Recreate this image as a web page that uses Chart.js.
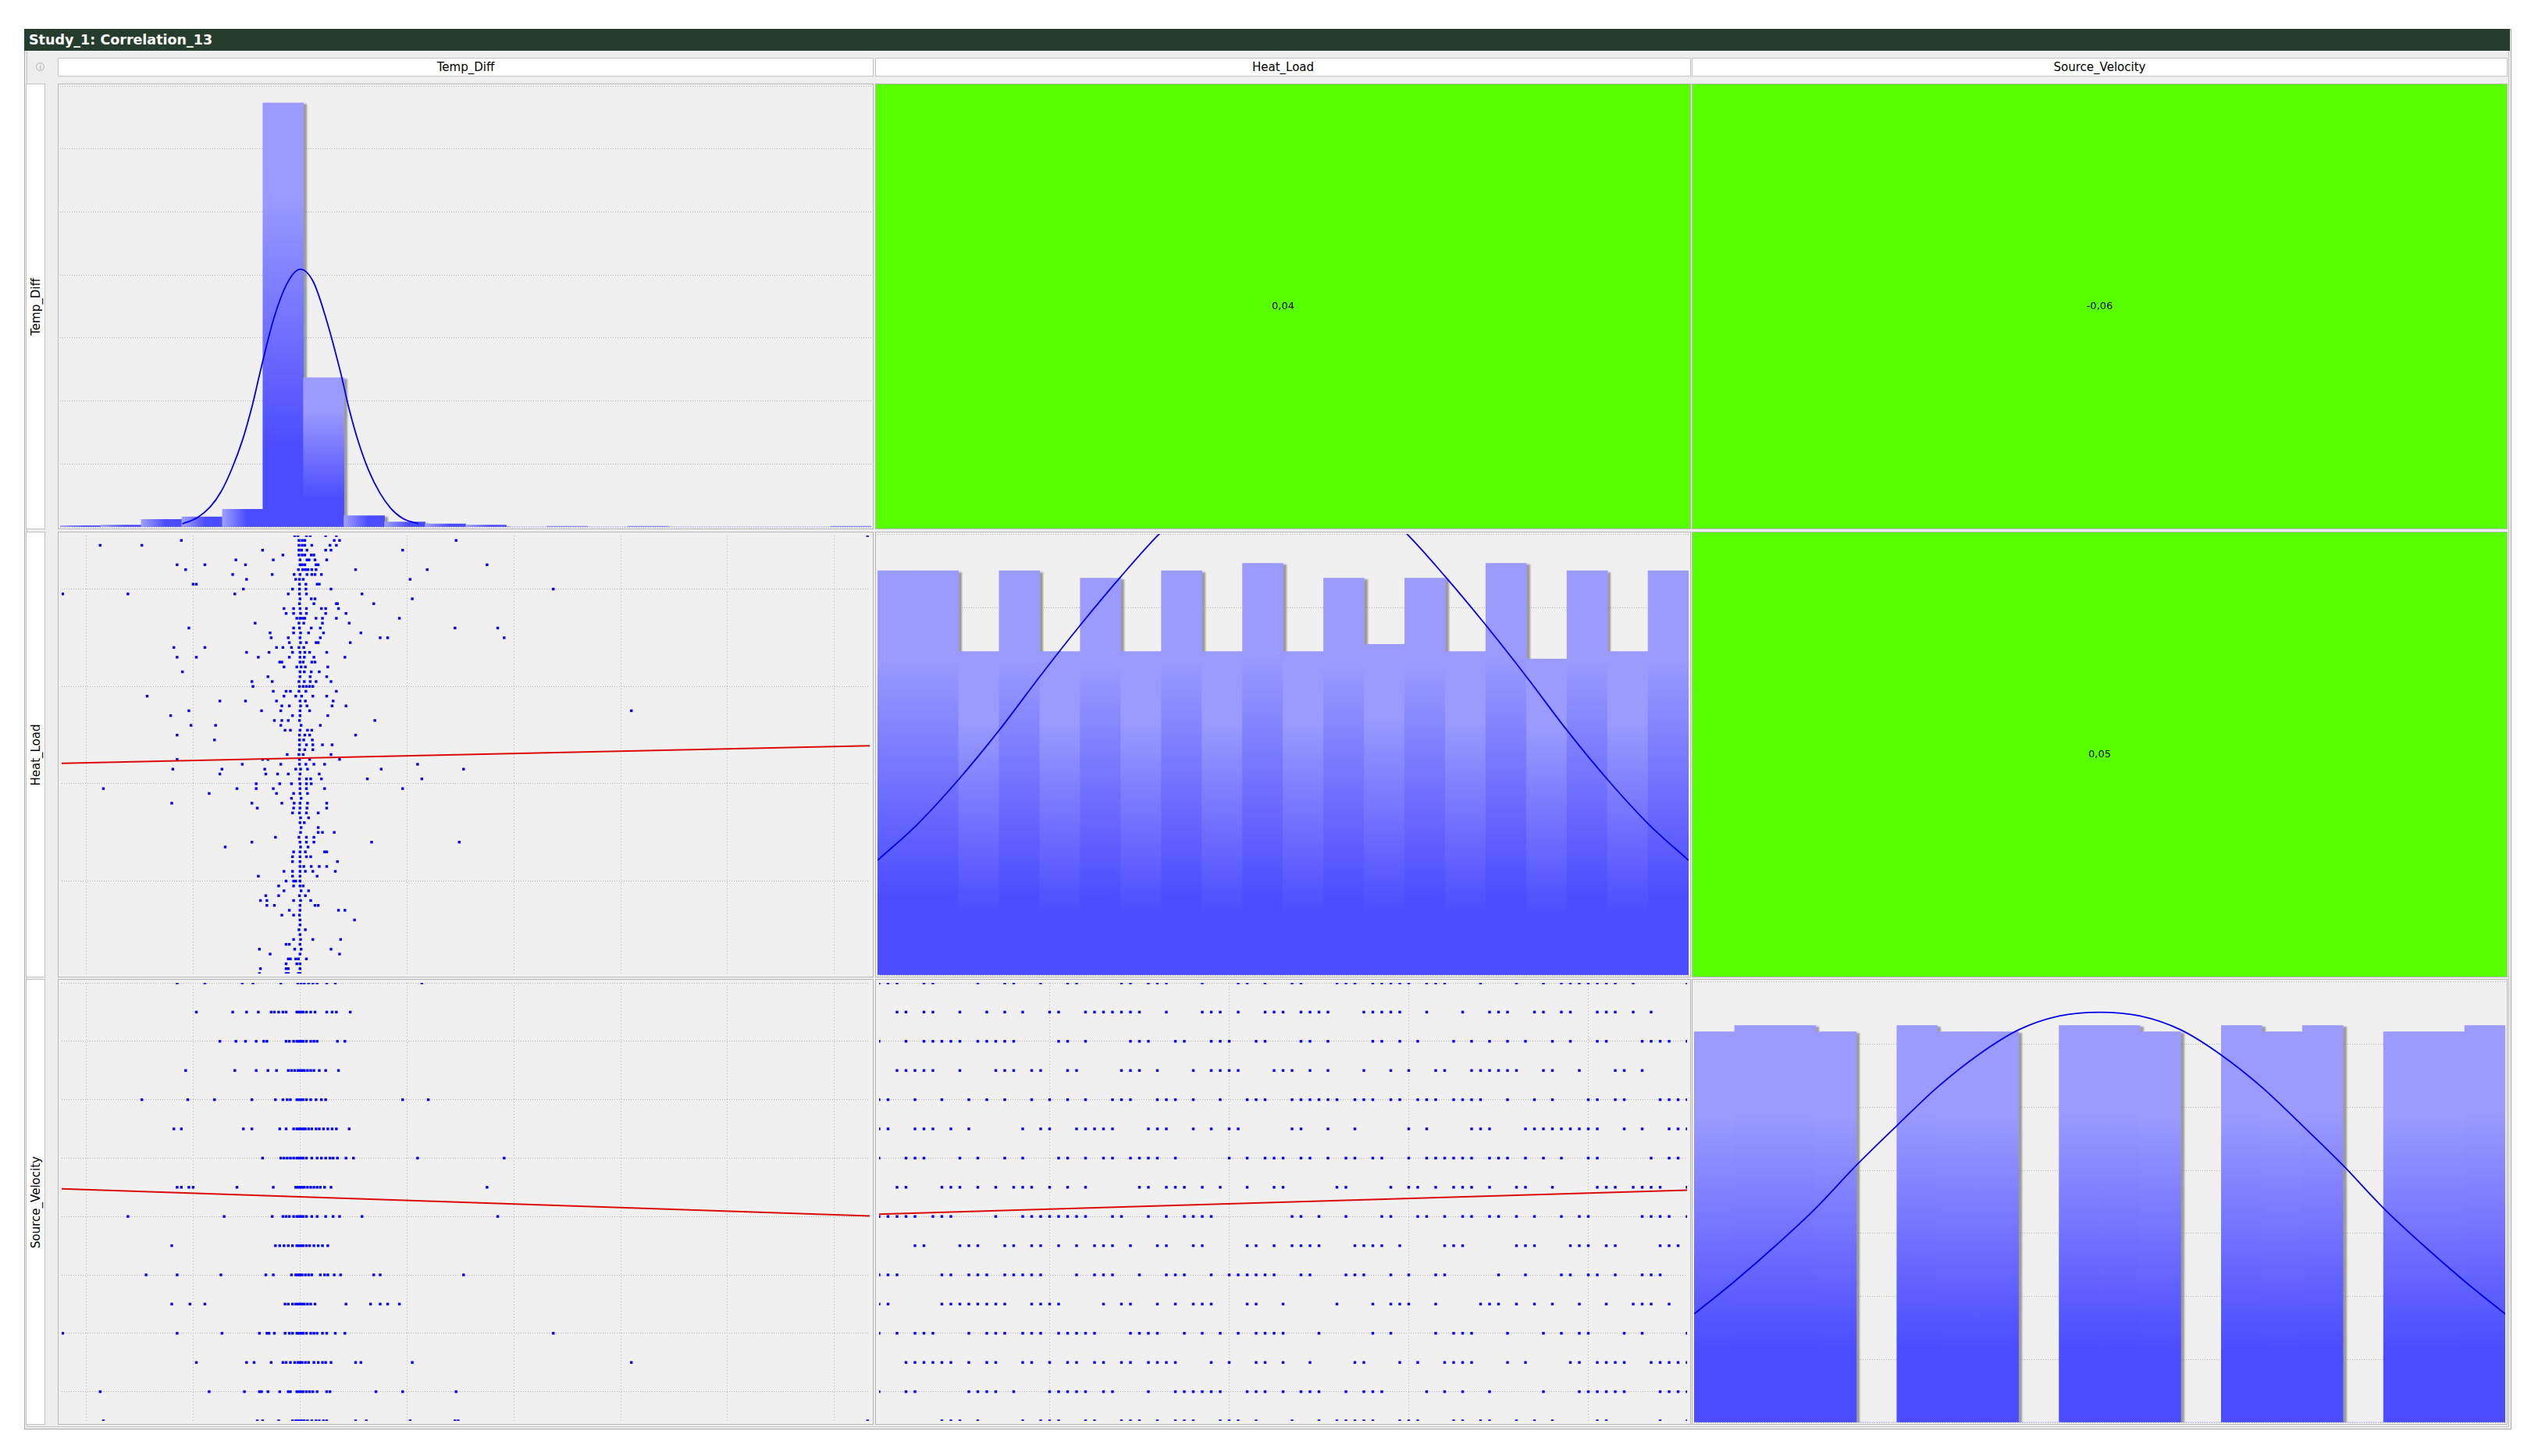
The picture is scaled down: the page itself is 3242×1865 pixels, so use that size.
<!DOCTYPE html>
<html>
<head>
<meta charset="utf-8">
<script src="https://cdn.jsdelivr.net/npm/chart.js@4.4.1/dist/chart.umd.min.js"></script>
<style>
  body { margin: 0; width: 3242px; height: 1865px; background: #fff; position: relative; overflow: hidden; font-family: "DejaVu Sans", sans-serif; }
  .frame { position: absolute; left: 31px; top: 37px; width: 3186px; height: 1794px; background: #eeeeee; border: 1px solid #a8a8a8; box-sizing: border-box; box-shadow: inset 0 0 0 2px #eeeeee, inset 0 0 0 3px #c4c4c4; }
  .title { position: absolute; left: 31px; top: 37px; width: 3184px; height: 28px; background: #263d2e; color: #fff; font: bold 17.5px "DejaVu Sans"; line-height: 28px; padding-left: 6px; box-sizing: border-box; }
  .info { position: absolute; left: 46px; top: 80px; width: 11px; height: 11px; border: 1px solid #b4b4b4; border-radius: 50%; font: 8px "DejaVu Sans"; color: #a0a0a0; text-align: center; line-height: 11px; box-sizing: border-box; }
  .colhead { position: absolute; top: 74px; height: 24px; background: #fff; border: 1px solid #c4c4c4; box-sizing: border-box; font: 15px "DejaVu Sans"; text-align: center; line-height: 22px; color: #000; }
  .rowhead { position: absolute; left: 33px; width: 25px; background: #fff; border: 1px solid #c4c4c4; box-sizing: border-box; }
  .rowhead span { position: absolute; left: 50%; top: 50%; transform: translate(-50%, -50%) rotate(-90deg); white-space: nowrap; font: 15px "DejaVu Sans"; color: #000; }
  .panel { position: absolute; border: 1px solid #b8b8b8; box-sizing: border-box; background: #f0f0f0; }
  .panel canvas { display: block; }
</style>
</head>
<body>
<div class="frame"></div>
<div class="title">Study_1: Correlation_13</div>
<div class="info">i</div>
<script>
const variables = ["Temp_Diff", "Heat_Load", "Source_Velocity"];

// axis ranges (data units) and gridline positions
const tempDiffRange = [-22.3, 53.3];
const heatRange = [0, 90];
const sourceRange = [0, 15];
const tempDiffGrid = [-20, -10, 0, 10, 20, 30, 40, 50];
const heatGrid = [19, 39, 59, 79];
const sourceGrid = [1, 3, 5, 7, 9, 11, 13, 15];

// histogram counts, 20 bins each
const tempDiffCounts = [2, 3, 12, 16, 28, 673, 237, 18, 8, 5, 3, 0, 1, 0, 1, 0, 0, 0, 0, 1];
const heatCounts = [55, 55, 44, 55, 44, 54, 44, 55, 44, 56, 44, 54, 45, 54, 44, 56, 43, 55, 44, 55];
const sourceCounts = [62, 63, 63, 62, 0, 63, 62, 62, 0, 63, 63, 62, 0, 63, 62, 63, 0, 62, 62, 63];
const tempCountTicks = [0, 100, 200, 300, 400, 500, 600, 700];
const heatCountTicks = [0, 10, 20, 30, 40, 50, 60];
const sourceCountTicks = [0, 10, 20, 30, 40, 50, 60, 70];

// fitted normal curves
const tempCurveX = [-10.9, -9.5, -8.3, -7.3, -6.3, -5.3, -4.4, -3.6, -2.4, -1.1, 0.1, 1.3, 2.5, 3.8, 4.7, 5.5, 6.5, 7.5, 8.5, 9.6, 11.1];
const tempCurveY = [5, 15, 32, 56, 92, 138, 192, 250, 330, 388, 409, 389, 330, 248, 183, 135, 88, 54, 30, 14, 5];
const heatCurveX = [0, 4.5, 9, 13.5, 18, 22.5, 27, 31.5, 36, 40.5, 45, 49.5, 54, 58.5, 63, 67.5, 72, 76.5, 81, 85.5, 90];
const heatCurveY = [15.6, 20.6, 26.6, 33.3, 40.6, 47.6, 54.2, 60.3, 65, 68, 69, 68, 65, 60.3, 54.2, 47.6, 40.6, 33.3, 26.6, 20.6, 15.6];
const sourceCurveX = [0, 0.75, 1.5, 2.25, 3, 3.75, 4.5, 5.25, 6, 6.75, 7.5, 8.25, 9, 9.75, 10.5, 11.25, 12, 12.75, 13.5, 14.25, 15];
const sourceCurveY = [17.2, 22.4, 28, 34, 40.8, 47.1, 53.2, 58.3, 62.3, 64.5, 65.1, 64.5, 62.3, 58.3, 53.2, 47.1, 40.8, 34, 28, 22.4, 17.2];

// correlations: Temp/Heat, Temp/Source, Heat/Source
const corrValues = [0.04, -0.06, 0.05];

// regression line ends (y at left and right edge)
const fitTempHeat = [43.2, 46.8];
const fitTempSource = [7.95, 7.02];
const fitHeatSource = [7.08, 7.9];

// Temp_Diff values per Heat_Load level, from 90 down to 0
const tdHeatRows = [
  [-0.5, -0.2, 0.6, 0.95, 2.4, 3.4, 53.1],
  [-11.1, -0.1, 0.2, 0.45, 3.2, 3.7, 14.6],
  [-18.7, -14.8, -0.1, 0.2, 0.45, 1.1, 2.8, 3.4],
  [-3.5, -0.1, 0.15, 0.65, 2.4, 2.9, 9.6],
  [-1.6, -0.1, 0.2, 0.45, 1.05, 1.3],
  [-6.0, -2.5, 0, 0.65, 0.85, 1.4, 2.5],
  [-11.5, -8.9, -5.1, 0, 0.2, 0.45, 1.5, 1.7, 17.5],
  [-10.7, -0.15, 0.25, 0.5, 0.75, 1.1, 1.5, 5.2, 11.9],
  [-6.3, -2.6, -0.55, 0, 0.65, 1.1, 1.4, 2.0],
  [-5.0, -0.4, -0.05, 0.3, 10.3],
  [-10.0, -9.7, -0.05, 0.55, 1.6, 1.8],
  [-5.3, -0.7, -0.05, 0.55, 2.9, 23.7],
  [-22.2, -16.1, -6.1, -1.1, -0.05, 0.6, 5.8],
  [0, 1.05, 1.4, 10.5],
  [-0.05, 1.3, 3.4, 3.5, 6.9],
  [-1.5, -0.6, 0, 0.6, 2.0, 2.4, 3.6],
  [-1.3, -0.6, 0.05, 0.6, 2.4, 4.3],
  [-0.3, 0, 0.25, 0.45, 1.5, 2.1, 3.4, 9.3],
  [-4.2, -0.1, 0.35, 2.1, 4.6],
  [-10.4, -0.6, -0.05, 1.05, 1.9, 14.5, 18.5],
  [-2.8, -0.6, 0.05, 0.8, 2.2, 5.7],
  [-2.7, -1.1, 0, 1.9, 7.5, 8.2, 19.1],
  [-1.0, 0.05, 0.6, 1.5, 1.7, 4.7],
  [-11.8, -8.9, -2.2, -1.6, -0.8, -0.1, 0.35],
  [-5.0, -2.9, -0.7, 0, 0.45, 0.9, 2.5],
  [-11.5, -9.7, -3.9, -1.0, 0, 0.4, 1.3, 4.2],
  [-1.9, -1.7, 0, 0.3, 1.1, 1.4],
  [-1.5, -0.3, 0.1, 0.5, 2.6],
  [-11.0, 0, 0.4, 1.05, 1.8],
  [-3.0, 0, 0.95, 2.5],
  [-4.5, -2.6, -0.1, 0.4, 0.95, 1.5, 2.9],
  [-4.4, -0.05, 0.3, 0.6, 0.9, 1.2],
  [-2.5, -1.3, -0.9, -0.1, 0.55, 3.4],
  [-14.3, -1.5, -0.4, 0.15, 1.2, 2.5],
  [-7.5, -5.1, -2.2, 0, 0.5, 3.1],
  [-1.7, -1.0, 0.05, 0.65, 3.0, 4.3],
  [-10.4, -3.6, -1.8, 0, 0.9, 31.0],
  [-12.1, -0.7, 0, 2.6],
  [-2.4, -1.7, -1.1, -0.05, 7.0],
  [-10.2, -7.9, -1.8, 0.1, 1.9],
  [-1.4, -0.9, 0, 0.7, 1.1],
  [-11.5, -0.05, 0.45, 0.9, 5.2],
  [-8.0, -0.05, 0.35, 1.15],
  [-0.05, 0.6, 1.2, 2.1, 3.0],
  [-0.05, 0.45, 1.2],
  [-1.2, -0.1, 0.3, 2.9],
  [-11.5, -3.5, -3.0, -0.05, 0.9, 3.7],
  [-5.4, -1.8, -0.05, 0.55, 1.3, 2.3, 11.0],
  [-11.9, -7.3, -3.3, -0.4, 0.05, 0.7, 7.6, 15.3],
  [-7.5, -3.2, -2.1, -1.1, 0, 1.8],
  [-0.05, 0.6, 1.0, 2.0, 6.3, 11.4],
  [-4.1, -1.9, -0.8, 0, 0.6, 1.05],
  [-18.4, -5.9, -4.1, -2.5, 0, 0.6, 2.3, 9.6],
  [-8.5, -2.2, -0.6, 0, 0.7],
  [-0.8, 0.1],
  [-12.0, -4.5, -1.7, -0.55, 0, 0.7, 2.5],
  [-4.0, -0.6, 0, 0.65, 2.5],
  [-0.7, -0.05, 0.6, 1.7],
  [0.05, 0.8],
  [0, 0.4],
  [0.1, 1.7],
  [0.05, 1.7, 2.1, 3.2],
  [-2.3, -0.1, 0.6, 1.3],
  [-4.5, 0, 0.6, 1.3, 6.7, 14.9],
  [-7.0, 0.05, 0.75],
  [-0.6, 0, 0.5, 2.3, 2.5],
  [-0.7, 0, 0.6, 1.0],
  [-0.7, 0, 3.5],
  [0, 0.35, 1.05, 1.8, 2.5],
  [-1.5, -0.7, 0, 0.5, 1.2, 3.3],
  [-3.9, -0.7, 0, 1.6],
  [-1.3, -0.6, -0.4, 0],
  [-2.0, -0.6, 0, 0.3],
  [-1.5, 0.1, 0.8],
  [-3.2, -2.0, -0.05, 0.5],
  [-3.7, -3.1, -0.6, 0.05, 1.0],
  [-3.1, -2.4, 0, 1.4, 1.7],
  [-1.0, 0, 3.6, 4.2],
  [-1.7, -0.6, -0.05],
  [0, 5.1],
  [0],
  [-0.1, 0.5],
  [0],
  [-0.6, 0.05, 1.2, 3.8],
  [-1.3, -1.0, 0],
  [-3.8, -0.5, 0.1, 2.9],
  [-2.8, 0, 3.7],
  [-1.1, -0.9, -0.4, -0.15, 0.6],
  [-1.3, -0.3, 0],
  [-3.7, -1.3, -1.1, 0],
  [-3.8, -1.3, -1.1, -0.15, 0]
];

// Temp_Diff values per Source_Velocity level, from 15 down to 0
const tdSourceRows = [
  [-11.5, -8.9, -5.4, -4.4, -1.8, -0.2, 0.1, 0.4, 0.8, 1.2, 1.6, 2.5, 3.3, 11.4],
  [-9.7, -6.3, -5.0, -3.9, -2.7, -2.4, -2.0, -1.6, -1.3, -0.3, -0.1, 0.1, 0.3, 0.6, 1.0, 1.4, 2.5, 3.0, 3.4, 4.7],
  [-7.5, -6.0, -5.1, -4.1, -3.4, -3.1, -1.3, -1.0, -0.6, -0.3, -0.1, 0.1, 0.3, 0.6, 1.0, 1.3, 1.6, 3.5, 4.2],
  [-10.7, -6.1, -4.1, -3.0, -2.2, -1.1, -0.8, -0.5, -0.2, 0, 0.2, 0.4, 0.7, 1.0, 1.3, 1.8, 2.4, 3.6],
  [-14.8, -10.5, -8.0, -4.5, -2.3, -1.6, -1.2, -0.9, -0.3, -0.1, 0.1, 0.3, 0.6, 1.0, 1.5, 2.0, 2.4, 9.6, 12.0],
  [-11.8, -11.1, -5.3, -4.5, -1.9, -1.3, -0.6, -0.3, -0.1, 0.1, 0.3, 0.5, 0.8, 1.1, 1.5, 1.8, 2.2, 2.6, 3.0, 3.4, 4.6],
  [-3.5, -1.8, -1.5, -1.2, -0.9, -0.6, -0.3, -0.1, 0.1, 0.3, 0.6, 1.1, 1.6, 2.0, 2.4, 2.8, 3.1, 3.5, 4.3, 5.0, 11.0, 19.1],
  [-11.5, -11.1, -10.4, -10.0, -5.9, -2.5, -0.4, -0.2, 0, 0.2, 0.4, 0.7, 1.0, 1.3, 1.6, 1.9, 2.3, 2.9, 17.5],
  [-16.1, -7.1, -2.6, -1.6, -1.3, -1.0, -0.6, -0.3, -0.1, 0.1, 0.3, 0.6, 1.1, 1.6, 2.4, 3.1, 3.7, 5.8, 18.5],
  [-12.0, -2.3, -1.9, -1.5, -1.1, -0.7, -0.3, -0.1, 0.1, 0.3, 0.6, 0.9, 1.3, 1.7, 2.1, 2.6],
  [-14.4, -11.5, -7.4, -3.2, -2.5, -0.8, -0.4, -0.2, 0, 0.2, 0.5, 0.8, 1.1, 1.9, 2.3, 2.6, 3.2, 3.8, 6.9, 7.5, 15.3],
  [-12.0, -10.3, -8.9, -1.4, -1.1, -0.7, -0.4, -0.2, 0, 0.2, 0.4, 0.7, 1.0, 1.4, 4.3, 6.6, 7.5, 8.2, 9.3],
  [-22.2, -11.5, -7.3, -3.8, -3.1, -2.9, -2.4, -1.4, -1.0, -0.7, -0.3, -0.1, 0.1, 0.3, 0.6, 1.0, 1.3, 1.6, 2.1, 2.5, 3.3, 4.2, 23.7],
  [-9.7, -5.0, -4.3, -2.7, -1.6, -1.3, -0.9, -0.5, -0.2, 0, 0.2, 0.5, 0.8, 1.3, 1.7, 2.1, 2.4, 2.9, 5.2, 5.7, 10.5, 31.0],
  [-18.7, -8.5, -5.2, -3.8, -3.6, -3.0, -1.9, -1.1, -0.9, -0.3, -0.1, 0.1, 0.3, 0.6, 0.9, 1.2, 1.6, 2.5, 2.8, 7.1, 9.6, 14.6],
  [-18.4, -4.0, -3.5, -2.0, -0.7, -0.4, -0.2, 0, 0.2, 0.4, 0.7, 1.1, 1.5, 1.8, 2.2, 2.5, 5.2, 6.2, 10.3, 14.5, 14.8, 53.1]
];

// Heat_Load values per Source_Velocity level, from 15 down to 0
const heatSourceRows = [
  [0, 1, 2, 5, 6, 11, 14, 15, 18, 21, 22, 27, 28, 30, 31, 32, 36, 40, 41, 43, 46, 47, 51, 52, 53, 55, 56, 57, 58, 59, 61, 62, 63, 67, 71, 74, 76, 77, 78, 79, 80, 81, 82, 84, 90],
  [2, 3, 5, 6, 9, 12, 14, 16, 19, 20, 23, 24, 25, 26, 27, 28, 29, 32, 36, 37, 38, 40, 43, 44, 45, 47, 48, 49, 50, 54, 55, 56, 57, 58, 61, 65, 68, 69, 70, 73, 74, 76, 77, 80, 81, 82, 84, 86],
  [0, 3, 5, 6, 7, 8, 9, 11, 12, 13, 14, 15, 20, 21, 23, 28, 29, 30, 33, 34, 37, 38, 39, 42, 43, 47, 48, 50, 55, 56, 58, 60, 64, 66, 68, 70, 72, 75, 77, 80, 81, 85, 86, 87, 88, 90],
  [2, 3, 4, 5, 6, 9, 13, 14, 15, 17, 18, 21, 22, 27, 28, 29, 31, 35, 37, 38, 39, 40, 44, 45, 46, 48, 50, 54, 57, 59, 62, 63, 66, 67, 68, 69, 70, 71, 74, 75, 78, 82, 83, 85],
  [0, 1, 4, 7, 10, 12, 14, 17, 19, 21, 23, 26, 27, 28, 31, 32, 33, 35, 38, 41, 42, 43, 46, 47, 48, 49, 50, 51, 53, 54, 55, 57, 58, 60, 61, 62, 64, 65, 66, 67, 70, 73, 75, 79, 80, 82, 83, 87, 88, 89, 90],
  [0, 1, 4, 5, 6, 8, 10, 16, 18, 19, 22, 23, 24, 25, 26, 30, 31, 32, 35, 37, 39, 40, 46, 47, 50, 53, 59, 61, 66, 67, 68, 72, 73, 74, 75, 76, 77, 78, 79, 80, 83, 85, 88, 89, 90],
  [0, 3, 4, 5, 9, 11, 14, 16, 20, 21, 23, 25, 26, 28, 29, 30, 31, 33, 39, 41, 43, 44, 45, 47, 48, 50, 52, 53, 55, 56, 59, 61, 62, 63, 64, 65, 66, 68, 69, 70, 72, 74, 76, 79, 80, 86, 88, 89],
  [2, 3, 7, 8, 9, 11, 13, 15, 16, 17, 19, 21, 23, 29, 30, 32, 33, 34, 36, 38, 41, 44, 45, 51, 52, 57, 59, 60, 62, 64, 65, 66, 68, 71, 72, 75, 80, 81, 82, 84, 85, 86, 87, 90],
  [0, 1, 2, 3, 4, 6, 7, 8, 13, 16, 17, 18, 19, 20, 21, 22, 23, 26, 27, 30, 32, 34, 35, 36, 37, 46, 47, 49, 52, 56, 57, 60, 61, 63, 65, 66, 68, 69, 71, 73, 76, 78, 79, 85, 86, 87, 88, 90],
  [4, 5, 9, 10, 11, 14, 15, 17, 18, 20, 22, 24, 25, 26, 28, 31, 32, 35, 36, 41, 42, 44, 46, 47, 48, 49, 53, 54, 55, 56, 58, 63, 64, 65, 71, 72, 73, 77, 78, 79, 81, 82, 87, 88, 89],
  [0, 1, 2, 7, 8, 10, 11, 12, 14, 15, 16, 17, 18, 22, 24, 25, 26, 29, 32, 33, 34, 37, 39, 40, 41, 42, 43, 44, 47, 48, 52, 53, 54, 57, 59, 62, 63, 69, 72, 76, 77, 79, 80, 82, 85, 86, 87],
  [0, 1, 7, 8, 9, 10, 11, 12, 13, 14, 17, 18, 19, 20, 25, 27, 28, 31, 33, 35, 36, 37, 41, 42, 45, 51, 55, 57, 58, 59, 62, 67, 68, 69, 71, 73, 75, 78, 81, 84, 85, 86, 88],
  [0, 2, 4, 5, 6, 10, 12, 13, 14, 16, 17, 18, 20, 21, 22, 23, 24, 28, 29, 30, 31, 34, 36, 38, 40, 42, 43, 44, 45, 49, 55, 57, 62, 64, 65, 66, 70, 74, 76, 78, 79, 83, 85, 90],
  [3, 4, 5, 6, 7, 8, 10, 12, 13, 16, 17, 19, 21, 22, 24, 25, 27, 28, 30, 31, 32, 33, 37, 39, 42, 43, 45, 48, 53, 54, 58, 60, 63, 64, 65, 66, 70, 72, 77, 78, 80, 81, 82, 83, 86, 87, 88, 89, 90],
  [0, 3, 4, 10, 11, 12, 13, 15, 19, 20, 21, 22, 23, 25, 26, 30, 33, 34, 35, 36, 37, 38, 41, 42, 43, 45, 47, 48, 49, 52, 54, 55, 56, 61, 63, 65, 68, 74, 78, 79, 80, 81, 82, 83, 87, 88, 89, 90],
  [7, 8, 9, 11, 16, 18, 19, 20, 23, 24, 27, 28, 29, 31, 33, 34, 35, 38, 39, 40, 42, 46, 49, 51, 52, 53, 54, 55, 58, 59, 60, 64, 65, 67, 68, 71, 73, 75, 80, 81, 87, 90]
];

Chart.defaults.animation = false;
Chart.defaults.responsive = false;
Chart.defaults.events = [];
Chart.defaults.devicePixelRatio = 1;
Chart.defaults.plugins.legend.display = false;
Chart.defaults.plugins.tooltip.enabled = false;
Chart.defaults.font.family = "DejaVu Sans";

const cols = [74, 1121, 2167];
const rows = [107, 681, 1254];
const PW = 1045, PH = 571;

variables.forEach((name, i) => {
  const ch = document.createElement("div");
  ch.className = "colhead";
  ch.style.left = cols[i] + "px";
  ch.style.width = PW + "px";
  ch.textContent = name;
  document.body.appendChild(ch);

  const rh = document.createElement("div");
  rh.className = "rowhead";
  rh.style.top = rows[i] + "px";
  rh.style.height = PH + "px";
  rh.innerHTML = "<span>" + name + "</span>";
  document.body.appendChild(rh);
});

function panel(r, c, bg) {
  const d = document.createElement("div");
  d.className = "panel";
  d.style.left = cols[c] + "px";
  d.style.top = rows[r] + "px";
  d.style.width = PW + "px";
  d.style.height = PH + "px";
  if (bg) d.style.background = bg;
  const cv = document.createElement("canvas");
  cv.width = PW - 2;
  cv.height = PH - 2;
  d.appendChild(cv);
  document.body.appendChild(d);
  return cv;
}

function axis(range, grid, dash, color) {
  return {
    type: "linear",
    min: range[0],
    max: range[1],
    offset: false,
    ticks: { display: false },
    grid: { display: !!grid, drawTicks: false, color: color || "#b4b4b4", lineWidth: 1, offset: false },
    border: { display: false, dash: dash || [] },
    afterBuildTicks: (s) => {
      s.ticks = (grid || range).map((v) => ({ value: v }));
    },
  };
}

// light-to-dark bar fill, per bar
function barFill(c) {
  const chart = c.chart;
  if (!chart.chartArea || c.type !== "data") return "#7070ff";
  const xs = chart.scales.x, ys = chart.scales.y;
  const top = ys.getPixelForValue(c.parsed.y);
  const base = ys.getPixelForValue(0);
  const h = base - top;
  if (h < 1) return "#7070ff";
  let g;
  if (h < 40) {
    const half = (xs.getPixelForValue(c.dataset.binWidth) - xs.getPixelForValue(0)) / 2;
    const cx = xs.getPixelForValue(c.parsed.x);
    g = chart.ctx.createLinearGradient(cx - half, 0, cx + half, 0);
    g.addColorStop(0, "#a0a0ff");
    g.addColorStop(0.6, "#4b4bff");
    g.addColorStop(1, "#4b4bff");
    return g;
  }
  g = chart.ctx.createLinearGradient(0, top, 0, base);
  g.addColorStop(0, "#9b9bff");
  g.addColorStop(0.22, "#9a9aff");
  g.addColorStop(0.82, "#4b4bff");
  g.addColorStop(1, "#4b4bff");
  return g;
}

const barShadow = {
  id: "barShadow",
  beforeDatasetDraw(chart, args) {
    if (args.meta.type !== "bar") return;
    const ctx = chart.ctx;
    ctx.save();
    ctx.shadowColor = "rgba(110,110,110,0.65)";
    ctx.shadowOffsetX = 4;
    ctx.shadowOffsetY = 2;
    ctx.shadowBlur = 2;
  },
  afterDatasetDraw(chart, args) {
    if (args.meta.type !== "bar") return;
    chart.ctx.restore();
  },
};

const cellLabel = {
  id: "cellLabel",
  afterDatasetsDraw(chart, args, opts) {
    const { ctx, chartArea: a } = chart;
    ctx.save();
    ctx.fillStyle = "#000";
    ctx.font = '13px "DejaVu Sans"';
    ctx.textAlign = "center";
    ctx.textBaseline = "middle";
    ctx.fillText(opts.text, (a.left + a.right) / 2, (a.top + a.bottom) / 2);
    ctx.restore();
  },
};

function histogram(cv, counts, range, countTicks, curveX, curveY) {
  const bw = (range[1] - range[0]) / counts.length;
  return new Chart(cv, {
    type: "bar",
    data: {
      datasets: [
        {
          type: "line",
          data: curveX.map((x, i) => ({ x: x, y: curveY[i] })),
          borderColor: "#0000ee",
          borderWidth: 1.8,
          pointRadius: 0,
          cubicInterpolationMode: "monotone",
          order: 0,
        },
        {
          type: "bar",
          data: counts.map((c, i) => ({ x: range[0] + (i + 0.5) * bw, y: c })),
          binWidth: bw,
          backgroundColor: barFill,
          borderWidth: 0,
          barPercentage: 1,
          categoryPercentage: 1,
          order: 1,
        },
      ],
    },
    options: {
      layout: { padding: 2 },
      scales: {
        x: axis(range, null),
        y: axis([0, countTicks[countTicks.length - 1]], countTicks, [1, 2], "#b0b0b0"),
      },
    },
    plugins: [barShadow],
  });
}

function rowsToPoints(rowList, top) {
  const pts = [];
  rowList.forEach((xs, i) => xs.forEach((x) => pts.push({ x: x, y: top - i })));
  return pts;
}

function scatter(cv, pts, xr, yr, xGrid, yGrid, fit) {
  return new Chart(cv, {
    type: "scatter",
    data: {
      datasets: [
        {
          type: "line",
          data: [{ x: xr[0], y: fit[0] }, { x: xr[1], y: fit[1] }],
          borderColor: "#dd0a0a",
          borderWidth: 2,
          pointRadius: 0,
          order: 0,
        },
        {
          type: "scatter",
          data: pts,
          pointStyle: "rect",
          pointRadius: 2.4,
          backgroundColor: "#0000ff",
          pointBackgroundColor: "#0000ff",
          borderWidth: 0,
          pointBorderWidth: 0,
          clip: 0,
          order: 1,
        },
      ],
    },
    options: {
      layout: { padding: 2 },
      scales: {
        x: axis(xr, xGrid, [1, 3], "#b4b4b4"),
        y: axis(yr, yGrid, [1, 2], "#b0b0b0"),
      },
    },
  });
}

function corrCell(cv, r) {
  return new Chart(cv, {
    type: "bar",
    data: {
      labels: [""],
      datasets: [{ data: [1], backgroundColor: "#58ff00", borderWidth: 0, barPercentage: 1, categoryPercentage: 1 }],
    },
    options: {
      layout: { padding: 0 },
      scales: { x: { display: false }, y: { display: false, min: 0, max: 1 } },
      plugins: { cellLabel: { text: r.toFixed(2).replace(".", ",") } },
    },
    plugins: [cellLabel],
  });
}

// diagonal: histograms
histogram(panel(0, 0), tempDiffCounts, tempDiffRange, tempCountTicks, tempCurveX, tempCurveY);
histogram(panel(1, 1), heatCounts, heatRange, heatCountTicks, heatCurveX, heatCurveY);
histogram(panel(2, 2), sourceCounts, sourceRange, sourceCountTicks, sourceCurveX, sourceCurveY);

// upper triangle: correlation cells
corrCell(panel(0, 1, "#58ff00"), corrValues[0]);
corrCell(panel(0, 2, "#58ff00"), corrValues[1]);
corrCell(panel(1, 2, "#58ff00"), corrValues[2]);

// lower triangle: scatter plots
scatter(panel(1, 0), rowsToPoints(tdHeatRows, 90), tempDiffRange, heatRange, tempDiffGrid, heatGrid, fitTempHeat);
scatter(panel(2, 0), rowsToPoints(tdSourceRows, 15), tempDiffRange, sourceRange, tempDiffGrid, sourceGrid, fitTempSource);
scatter(panel(2, 1), rowsToPoints(heatSourceRows, 15), heatRange, sourceRange, heatGrid, sourceGrid, fitHeatSource);
</script>
</body>
</html>
